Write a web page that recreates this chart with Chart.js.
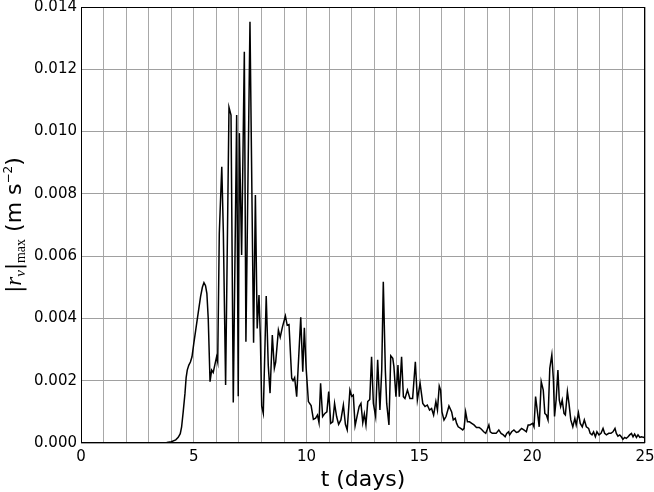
<!DOCTYPE html>
<html>
<head>
<meta charset="utf-8">
<script src="https://cdn.jsdelivr.net/npm/chart.js@4.4.1/dist/chart.umd.min.js"></script>
<style>
  html, body { margin: 0; padding: 0; background: #fff; }
  canvas { display: block; }
</style>
</head>
<body>
<canvas id="chart" width="654" height="492"></canvas>
<script>
// time (days) and |r_v|max (m s^-2)
const days = [
  0, 0.5, 1.0, 1.5, 2.0, 2.5, 3.0, 3.5, 3.8, 4.0,
  4.2, 4.31, 4.4, 4.46, 4.53, 4.61, 4.66, 4.71, 4.78, 4.85,
  4.92, 5.0, 5.08, 5.2, 5.3, 5.38, 5.45, 5.52, 5.58, 5.64,
  5.72, 5.79, 5.86, 5.93, 6.01, 6.06, 6.13, 6.24, 6.31, 6.41,
  6.56, 6.65, 6.75, 6.9, 6.97, 7.02, 7.12, 7.24, 7.31, 7.49,
  7.65, 7.73, 7.81, 7.89, 7.95, 8.01, 8.08, 8.21, 8.3, 8.38,
  8.48, 8.57, 8.63, 8.75, 8.83, 8.93, 9.06, 9.14, 9.22, 9.34,
  9.4, 9.47, 9.56, 9.74, 9.83, 9.9, 9.98, 10.08, 10.2, 10.3,
  10.4, 10.48, 10.55, 10.62, 10.71, 10.81, 10.9, 10.98, 11.07, 11.16,
  11.24, 11.33, 11.42, 11.52, 11.63, 11.72, 11.8, 11.92, 12.0, 12.07,
  12.15, 12.25, 12.33, 12.41, 12.49, 12.56, 12.63, 12.71, 12.8, 12.88,
  12.96, 13.06, 13.15, 13.25, 13.33, 13.4, 13.49, 13.55, 13.65, 13.73,
  13.82, 13.87, 13.96, 14.05, 14.11, 14.21, 14.29, 14.36, 14.47, 14.58,
  14.7, 14.82, 14.91, 15.03, 15.15, 15.25, 15.35, 15.45, 15.54, 15.63,
  15.73, 15.8, 15.88, 15.94, 16.0, 16.09, 16.18, 16.31, 16.43, 16.5,
  16.59, 16.65, 16.72, 16.83, 16.92, 16.98, 17.05, 17.13, 17.22, 17.32,
  17.42, 17.53, 17.65, 17.75, 17.85, 17.94, 18.01, 18.08, 18.14, 18.23,
  18.33, 18.4, 18.52, 18.62, 18.72, 18.8, 18.87, 18.95, 19.0, 19.09,
  19.19, 19.3, 19.39, 19.46, 19.53, 19.63, 19.74, 19.82, 19.9, 20.02,
  20.08, 20.15, 20.24, 20.31, 20.4, 20.49, 20.56, 20.63, 20.7, 20.78,
  20.87, 20.94, 20.99, 21.06, 21.14, 21.2, 21.26, 21.33, 21.41, 21.47,
  21.56, 21.63, 21.71, 21.8, 21.89, 21.95, 22.05, 22.13, 22.22, 22.31,
  22.4, 22.5, 22.57, 22.65, 22.72, 22.8, 22.87, 22.96, 23.05, 23.14,
  23.21, 23.29, 23.39, 23.49, 23.58, 23.67, 23.73, 23.8, 23.88, 23.95,
  24.02, 24.1, 24.17, 24.25, 24.32, 24.4, 24.47, 24.54, 24.62, 24.69,
  24.77, 24.84, 24.95, 25.0
];

const rvMax = [
  0, 0, 0, 0, 0, 0, 0.00001, 0.00001, 0.00002, 0.00004,
  0.0001, 0.00018, 0.0003, 0.00052, 0.001, 0.0016, 0.0021, 0.00234, 0.0025, 0.0026,
  0.00277, 0.0032, 0.0036, 0.0042, 0.0047, 0.005, 0.00515, 0.00505, 0.0048, 0.004,
  0.00197, 0.00234, 0.00226, 0.0025, 0.00277, 0.0026, 0.00673, 0.00887, 0.00674, 0.00186,
  0.01078, 0.01053, 0.0013, 0.01053, 0.0015, 0.00995, 0.00604, 0.01256, 0.00325, 0.01353,
  0.00322, 0.00796, 0.00368, 0.00475, 0.0034, 0.00118, 0.00095, 0.00472, 0.0025, 0.0016,
  0.00347, 0.0024, 0.0026, 0.00363, 0.0034, 0.00373, 0.00408, 0.00378, 0.0038, 0.00208,
  0.002, 0.0021, 0.00149, 0.00404, 0.00229, 0.0037, 0.0024, 0.00133, 0.0012, 0.00076,
  0.0008, 0.0009, 0.00065, 0.00192, 0.00085, 0.00095, 0.001, 0.00165, 0.00063, 0.00068,
  0.00127, 0.00085, 0.0006, 0.00074, 0.00122, 0.0006, 0.00042, 0.0017, 0.0015, 0.00154,
  0.00055, 0.0009, 0.00117, 0.00127, 0.00065, 0.00093, 0.00058, 0.00133, 0.0014, 0.00277,
  0.00127, 0.00085, 0.00267, 0.00106, 0.00234, 0.00518, 0.00234, 0.00127, 0.00058, 0.0028,
  0.00272, 0.00245, 0.00149, 0.0025, 0.00149, 0.00277, 0.00149, 0.00143, 0.0017, 0.00143,
  0.00143, 0.00261, 0.00138, 0.00192, 0.00127, 0.00117, 0.00122, 0.00106, 0.00111, 0.0009,
  0.00133, 0.00106, 0.00183, 0.0017, 0.001, 0.00074, 0.00085, 0.00119, 0.001, 0.00074,
  0.00079, 0.00063, 0.00052, 0.00047, 0.00042, 0.00047, 0.001, 0.00068, 0.00068, 0.00063,
  0.00058, 0.0005, 0.0005, 0.00044, 0.00036, 0.00031, 0.00044, 0.00058, 0.00036, 0.00031,
  0.00031, 0.00031, 0.00042, 0.00031, 0.00026, 0.0002, 0.00031, 0.00036, 0.00026, 0.00036,
  0.00042, 0.00034, 0.00036, 0.00042, 0.00047, 0.00042, 0.00036, 0.00058, 0.00058, 0.00063,
  0.00052, 0.00149, 0.00095, 0.00052, 0.00197, 0.0017, 0.00095, 0.0009, 0.00074, 0.0024,
  0.00283, 0.00202, 0.00085, 0.00138, 0.00234, 0.00138, 0.00117, 0.00138, 0.00095, 0.0009,
  0.00165, 0.00127, 0.00074, 0.00052, 0.00079, 0.00058, 0.00097, 0.00063, 0.00052, 0.00074,
  0.00052, 0.00047, 0.00031, 0.00026, 0.00036, 0.0002, 0.00036, 0.00026, 0.00031, 0.00047,
  0.00031, 0.00026, 0.00031, 0.00031, 0.00036, 0.00047, 0.00031, 0.00022, 0.00026, 0.0002,
  0.00012, 0.00018, 0.00015, 0.0002, 0.00026, 0.00031, 0.0002, 0.00029, 0.00018, 0.00026,
  0.00018, 0.0002, 0.00018, 0.0002
];

const xLabelEvery = 5;
const xTitle = 't (days)';

// black frame around the plot area
const framePlugin = {
  id: 'frame',
  afterDraw(chart) {
    const { ctx, chartArea: a } = chart;
    ctx.save();
    ctx.strokeStyle = '#000';
    ctx.lineWidth = 1;
    ctx.strokeRect(a.left + 0.5, a.top + 0.5, a.right - a.left - 1, a.bottom - a.top - 1);
    ctx.restore();
  }
};

// y label mixes math (serif italic) and plain text, so it is drawn by hand
const yLabelPlugin = {
  id: 'yLabel',
  afterDraw(chart) {
    const ctx = chart.ctx;
    const a = chart.chartArea;
    const parts = [
      { t: '|', font: '21px "DejaVu Sans"', dy: 0 },
      { t: 'r', font: 'italic 23px "Liberation Serif"', dy: 0 },
      { t: 'v', font: 'italic 15px "Liberation Serif"', dy: 4 },
      { t: '|', font: '21px "DejaVu Sans"', dy: 0 },
      { t: 'max', font: '14px "Liberation Serif"', dy: 4 },
      { t: ' (m s', font: '22px "DejaVu Sans"', dy: 0 },
      { t: '\u22122', font: '12px "DejaVu Sans"', dy: -9 },
      { t: ')', font: '22px "DejaVu Sans"', dy: 0 }
    ];
    ctx.save();
    ctx.fillStyle = '#000';
    ctx.textBaseline = 'alphabetic';
    let total = 0;
    parts.forEach(p => { ctx.font = p.font; p.w = ctx.measureText(p.t).width; total += p.w; });
    ctx.translate(21, (a.top + a.bottom) / 2);
    ctx.rotate(-Math.PI / 2);
    let x = -total / 2;
    parts.forEach(p => {
      ctx.font = p.font;
      ctx.fillText(p.t, x, p.dy);
      x += p.w;
    });
    ctx.restore();
  }
};

new Chart(document.getElementById('chart'), {
  type: 'line',
  data: {
    datasets: [{
      data: days.map((d, i) => ({ x: d, y: rvMax[i] })),
      borderColor: '#000',
      borderWidth: 1.5,
      pointRadius: 0,
      tension: 0,
      fill: false
    }]
  },
  options: {
    responsive: false,
    animation: false,
    devicePixelRatio: 1,
    layout: { padding: { top: 7, right: 9, left: 0, bottom: 0 } },
    plugins: {
      legend: { display: false },
      tooltip: { enabled: false }
    },
    scales: {
      x: {
        type: 'linear',
        min: 0,
        max: 25,
        afterFit: s => { s.height = 49; s.paddingLeft = 0; s.paddingRight = 0; },
        grid: { color: '#a8a8a8', lineWidth: 1, drawTicks: false },
        border: { display: false },
        ticks: {
          stepSize: 1,
          autoSkip: false,
          maxRotation: 0,
          padding: 5,
          color: '#000',
          font: { family: '"DejaVu Sans"', size: 15 },
          callback: v => (v % xLabelEvery === 0 ? String(v) : '')
        },
        title: {
          display: true,
          text: xTitle,
          color: '#000',
          font: { family: '"DejaVu Sans"', size: 22, lineHeight: 1.1 },
          padding: { top: 0, bottom: 0 }
        }
      },
      y: {
        min: 0,
        max: 0.014,
        afterFit: s => { s.width = 81; s.paddingTop = 0; s.paddingBottom = 0; },
        grid: { color: '#a0a0a0', lineWidth: 1, drawTicks: false },
        border: { display: false },
        ticks: {
          stepSize: 0.002,
          padding: 4,
          color: '#000',
          font: { family: '"DejaVu Sans"', size: 15 },
          callback: v => v.toFixed(3)
        }
      }
    }
  },
  plugins: [framePlugin, yLabelPlugin]
});
</script>
</body>
</html>
